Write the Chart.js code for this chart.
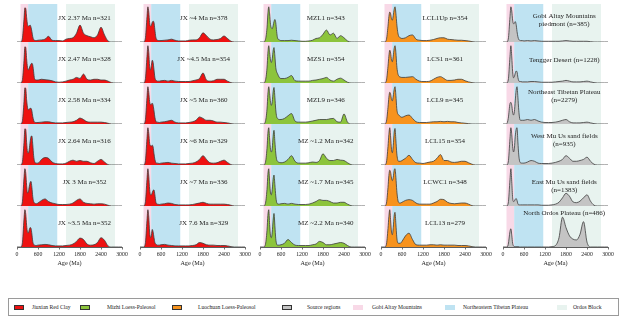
<!DOCTYPE html>
<html>
<head>
<meta charset="utf-8">
<script src="https://cdn.jsdelivr.net/npm/chart.js@4.4.0/dist/chart.umd.min.js"></script>
<style>
html, body { margin: 0; padding: 0; background: #fff; }
body { width: 623px; height: 323px; position: relative; overflow: hidden; font-family: 'Liberation Serif', serif; }
canvas.col { position: absolute; top: 0; }
#legend { position: absolute; left: 8px; top: 298px; width: 611px; height: 18px; border: 1px solid #9a9a9a; box-sizing: border-box; }
.sw { position: absolute; top: 305px; width: 10px; height: 5px; border: 0.8px solid #333; box-sizing: border-box; }
.lt { position: absolute; top: 302px; font-size: 5.6px; line-height: 10px; color: #222; white-space: nowrap; }
</style>
</head>
<body>
<div id="legend"></div>
<div id="charts"></div>
<script>
// age grid (Ma) shared by every density curve
const ages = [0, 100, 150, 200,
  225, 250, 275, 300, 325, 350, 375, 400, 425, 450, 475, 500,
  550, 600,
  700, 800, 900, 1000, 1100, 1200,
  1300, 1400, 1500, 1600, 1700, 1800,
  1900, 2000, 2100, 2200, 2300, 2400,
  2500, 2600, 2700, 2800, 2900, 3000];

// Jiuxian Red Clay
const jx237 = [0,0,0.08,0.65, 0.97,0.95,0.7,0.5,0.45,0.46,0.48,0.42,0.3,0.15,0.07,0.05, 0.04,0.05, 0.06,0.08,0.16,0.05,0.04,0.04, 0.03,0.08,0.1,0.12,0.25,0.48, 0.25,0.18,0.15,0.12,0.2,0.42, 0.2,0.03,0,0,0,0];
const jx247 = [0,0,0.06,0.6, 0.97,0.95,0.65,0.42,0.35,0.4,0.46,0.51,0.53,0.48,0.3,0.12, 0.08,0.08, 0.1,0.09,0.08,0.06,0.03,0.02, 0.03,0.05,0.08,0.1,0.15,0.12, 0.24,0.1,0.08,0.1,0.1,0.08, 0.08,0.05,0.01,0,0,0];
const jx258 = [0,0,0.06,0.6, 0.97,0.95,0.65,0.45,0.38,0.4,0.42,0.42,0.35,0.2,0.1,0.05, 0.04,0.04, 0.05,0.06,0.06,0.04,0.03,0.03, 0.03,0.04,0.05,0.06,0.1,0.16, 0.12,0.06,0.05,0.05,0.05,0.05, 0.04,0.02,0,0,0,0];
const jx264 = [0,0,0.06,0.6, 0.97,0.95,0.6,0.35,0.32,0.42,0.62,0.76,0.78,0.55,0.25,0.1, 0.05,0.05, 0.15,0.2,0.18,0.08,0.04,0.03, 0.03,0.05,0.1,0.13,0.1,0.12, 0.1,0.1,0.06,0.04,0.1,0.15, 0.08,0.01,0,0,0,0];
const jx3 = [0,0,0.08,0.75, 1,0.88,0.55,0.35,0.38,0.52,0.63,0.66,0.5,0.25,0.12,0.08, 0.06,0.08, 0.15,0.19,0.12,0.08,0.06,0.04, 0.04,0.04,0.05,0.08,0.15,0.19, 0.1,0.07,0.06,0.05,0.06,0.06, 0.05,0.02,0,0,0,0];
const jx35 = [0,0,0.08,0.75, 1,0.88,0.58,0.4,0.38,0.46,0.52,0.5,0.35,0.15,0.07,0.05, 0.04,0.05, 0.06,0.07,0.06,0.04,0.03,0.03, 0.03,0.04,0.05,0.08,0.15,0.24, 0.2,0.08,0.05,0.06,0.12,0.25, 0.18,0.03,0,0,0,0];
const jx4 = [0,0,0.08,0.72, 1,0.85,0.55,0.45,0.47,0.56,0.59,0.55,0.35,0.15,0.07,0.05, 0.04,0.04, 0.05,0.06,0.08,0.05,0.03,0.03, 0.03,0.05,0.06,0.06,0.12,0.26, 0.18,0.08,0.06,0.07,0.1,0.17, 0.1,0.02,0,0,0,0];
const jx45 = [0,0,0.08,0.72, 1,0.82,0.45,0.35,0.47,0.61,0.55,0.35,0.15,0.08,0.06,0.05, 0.05,0.06, 0.07,0.05,0.07,0.05,0.04,0.04, 0.04,0.04,0.06,0.08,0.12,0.27, 0.08,0.05,0.06,0.1,0.1,0.1, 0.05,0.01,0,0,0,0];
const jx5 = [0,0,0.08,0.72, 1,0.85,0.6,0.52,0.53,0.56,0.5,0.35,0.18,0.08,0.05,0.05, 0.04,0.05, 0.06,0.08,0.1,0.05,0.03,0.03, 0.03,0.04,0.06,0.1,0.19,0.15, 0.1,0.1,0.08,0.05,0.05,0.04, 0.03,0.01,0,0,0,0];
const jx6 = [0,0,0.08,0.72, 1,0.85,0.58,0.52,0.51,0.53,0.48,0.3,0.15,0.07,0.05,0.05, 0.04,0.05, 0.06,0.07,0.05,0.04,0.03,0.03, 0.03,0.04,0.05,0.08,0.15,0.25, 0.15,0.06,0.05,0.06,0.1,0.13, 0.07,0.01,0,0,0,0];
const jx7 = [0,0,0.08,0.72, 1,0.8,0.45,0.3,0.3,0.36,0.42,0.43,0.3,0.12,0.06,0.05, 0.04,0.05, 0.06,0.08,0.07,0.04,0.03,0.03, 0.03,0.03,0.04,0.06,0.08,0.1, 0.07,0.05,0.05,0.05,0.05,0.05, 0.04,0.02,0,0,0,0];
const jx76 = [0,0,0.08,0.72, 1,0.8,0.4,0.25,0.32,0.47,0.4,0.25,0.12,0.08,0.06,0.05, 0.05,0.06, 0.07,0.05,0.04,0.03,0.03,0.03, 0.03,0.03,0.04,0.06,0.12,0.1, 0.06,0.05,0.05,0.04,0.04,0.04, 0.03,0.01,0,0,0,0];

// Mizhi Loess-Paleosol
const mzl1 = [0,0,0.05,0.4, 0.8,1,0.8,0.5,0.4,0.38,0.46,0.58,0.64,0.55,0.3,0.12, 0.06,0.04, 0.04,0.04,0.05,0.04,0.03,0.02, 0.02,0.03,0.05,0.1,0.12,0.22, 0.34,0.2,0.25,0.1,0.18,0.12, 0.03,0,0,0,0,0];
const mzs1 = [0,0,0.05,0.4, 0.8,1,0.82,0.62,0.55,0.65,0.86,0.95,0.72,0.42,0.3,0.25, 0.15,0.12, 0.12,0.15,0.2,0.06,0.05,0.05, 0.05,0.05,0.07,0.08,0.1,0.12, 0.15,0.08,0.05,0.1,0.13,0.08, 0.02,0,0,0,0,0];
const mzl9 = [0,0,0.05,0.4, 0.8,1,0.82,0.58,0.5,0.6,0.86,0.98,0.72,0.38,0.2,0.15, 0.12,0.12, 0.15,0.22,0.28,0.08,0.05,0.05, 0.05,0.06,0.08,0.1,0.12,0.12, 0.12,0.14,0.15,0.06,0.05,0.27, 0.05,0,0,0,0,0];
const mz12 = [0,0,0.05,0.45, 0.85,1,0.7,0.42,0.35,0.45,0.77,0.93,0.62,0.32,0.15,0.1, 0.07,0.06, 0.08,0.15,0.25,0.1,0.05,0.05, 0.05,0.06,0.08,0.07,0.12,0.3, 0.18,0.12,0.12,0.15,0.13,0.12, 0.06,0.01,0,0,0,0];
const mz17 = [0,0,0.05,0.45, 0.85,1,0.65,0.35,0.3,0.45,0.72,0.83,0.57,0.27,0.1,0.06, 0.05,0.06, 0.07,0.05,0.07,0.05,0.04,0.04, 0.04,0.05,0.08,0.12,0.17,0.15, 0.15,0.12,0.08,0.08,0.1,0.1, 0.05,0.01,0,0,0,0];
const mz22 = [0,0,0.05,0.45, 0.85,1,0.6,0.3,0.25,0.4,0.72,0.9,0.57,0.22,0.08,0.05, 0.05,0.06, 0.1,0.2,0.12,0.05,0.04,0.04, 0.04,0.04,0.06,0.08,0.15,0.12, 0.06,0.06,0.08,0.1,0.12,0.1, 0.04,0,0,0,0,0];

// Luochuan Loess-Paleosol
const lcl1up = [0,0,0.05,0.45, 0.72,0.85,0.8,0.66,0.62,0.75,0.92,1,0.82,0.52,0.3,0.18, 0.12,0.1, 0.12,0.18,0.2,0.08,0.05,0.04, 0.04,0.05,0.07,0.1,0.12,0.12, 0.08,0.07,0.06,0.05,0.05,0.04, 0.03,0.01,0,0,0,0];
const lcs1 = [0,0,0.05,0.45, 0.72,0.88,0.8,0.62,0.57,0.72,0.92,1,0.82,0.47,0.28,0.2, 0.16,0.15, 0.15,0.16,0.17,0.1,0.05,0.04, 0.04,0.05,0.1,0.15,0.17,0.12, 0.07,0.07,0.08,0.1,0.1,0.06, 0.03,0.01,0,0,0,0];
const lcl9 = [0,0,0.05,0.45, 0.72,0.85,0.8,0.66,0.62,0.75,0.92,1,0.77,0.42,0.28,0.25, 0.2,0.18, 0.22,0.24,0.15,0.06,0.04,0.04, 0.04,0.05,0.06,0.06,0.07,0.06, 0.07,0.06,0.06,0.04,0.03,0.02, 0.01,0,0,0,0,0];
const lcl15 = [0,0,0.05,0.5, 0.82,1,0.75,0.42,0.33,0.52,0.86,0.98,0.67,0.32,0.15,0.1, 0.1,0.12, 0.18,0.26,0.15,0.06,0.05,0.04, 0.06,0.08,0.1,0.18,0.28,0.12, 0.12,0.08,0.07,0.08,0.1,0.1, 0.06,0.02,0,0,0,0];
const lcwc1 = [0,0,0.05,0.5, 0.82,0.96,0.9,0.75,0.68,0.77,0.95,1,0.77,0.42,0.2,0.1, 0.08,0.1, 0.15,0.17,0.15,0.08,0.05,0.05, 0.05,0.05,0.08,0.12,0.18,0.17, 0.1,0.07,0.06,0.07,0.08,0.08, 0.05,0.01,0,0,0,0];
const lcl13 = [0,0,0.05,0.5, 0.82,1,0.7,0.4,0.33,0.52,0.83,0.93,0.62,0.27,0.12,0.1, 0.1,0.15, 0.3,0.37,0.2,0.06,0.05,0.05, 0.05,0.06,0.06,0.05,0.06,0.05, 0.05,0.05,0.05,0.04,0.04,0.04, 0.03,0.01,0,0,0,0];

// Source regions
const gobi = [0,0,0.08,0.72, 1,0.88,0.62,0.52,0.53,0.58,0.5,0.3,0.15,0.07,0.05,0.04, 0.04,0.03, 0.04,0.03,0.04,0.03,0.02,0.02, 0.02,0.02,0.02,0.02,0.03,0.04, 0.03,0.02,0.02,0.02,0.02,0.02, 0.01,0,0,0,0,0];
const tengger = [0,0,0.08,0.72, 1,0.7,0.3,0.14,0.17,0.26,0.32,0.3,0.15,0.06,0.04,0.04, 0.03,0.03, 0.03,0.04,0.04,0.03,0.02,0.02, 0.02,0.02,0.03,0.04,0.05,0.07, 0.05,0.03,0.03,0.03,0.04,0.05, 0.03,0.01,0,0,0,0];
const neTibet = [0,0,0.15,0.55, 0.58,0.5,0.32,0.24,0.33,0.62,0.9,1,0.72,0.37,0.15,0.1, 0.1,0.1, 0.12,0.1,0.12,0.08,0.05,0.04, 0.04,0.04,0.05,0.07,0.1,0.12, 0.06,0.03,0.03,0.03,0.04,0.05, 0.03,0.01,0,0,0,0];
const westMuUs = [0,0,0.08,0.72, 1,0.82,0.5,0.35,0.45,0.77,0.95,1,0.62,0.27,0.1,0.06, 0.05,0.05, 0.08,0.12,0.1,0.05,0.04,0.04, 0.04,0.05,0.07,0.1,0.15,0.25, 0.18,0.1,0.1,0.12,0.15,0.21, 0.1,0.02,0,0,0,0];
const eastMuUs = [0,0,0.08,0.72, 1,0.65,0.22,0.12,0.13,0.18,0.2,0.15,0.06,0.03,0.03,0.03, 0.03,0.03, 0.03,0.03,0.03,0.03,0.02,0.02, 0.02,0.03,0.05,0.1,0.22,0.34, 0.26,0.11,0.09,0.13,0.22,0.3, 0.13,0.02,0,0,0,0];
const northOrdos = [0,0,0.07,0.42, 0.49,0.32,0.1,0.03,0.01,0.01,0.01,0.01,0.01,0.01,0,0, 0,0, 0,0,0,0,0,0, 0,0.01,0.04,0.25,0.8,0.52, 0.3,0.21,0.19,0.34,0.68,0.13, 0,0,0,0,0,0];

// panel captions
const jxLabelsA = ['JX 2.37 Ma n=321', 'JX 2.47 Ma n=328', 'JX 2.58 Ma n=334', 'JX 2.64 Ma n=316', 'JX 3 Ma n=352', 'JX ~3.5 Ma n=352'];
const jxLabelsB = ['JX ~4 Ma n=378', 'JX ~4.5 Ma n=354', 'JX ~5 Ma n=360', 'JX ~6 Ma n=329', 'JX ~7 Ma n=336', 'JX 7.6 Ma n=329'];
const mzLabels = ['MZL1 n=343', 'MZS1 n=354', 'MZL9 n=346', 'MZ ~1.2 Ma n=342', 'MZ ~1.7 Ma n=345', 'MZ ~2.2 Ma n=340'];
const lcLabels = ['LCL1Up n=354', 'LCS1 n=361', 'LCL9 n=345', 'LCL15 n=354', 'LCWC1 n=348', 'LCL13 n=279'];
const srcLabels = [['Gobi Altay Mountains', 'piedmont (n=385)'], ['Tengger Desert (n=1228)'],
  ['Northeast Tibetan Plateau', '(n=2279)'], ['West Mu Us sand fields', '(n=935)'],
  ['East Mu Us sand fields', '(n=1383)'], ['North Ordos Plateau (n=486)']];

// shaded source-age windows
const bandNames = ['Gobi Altay Mountains', 'Northeastern Tibetan Plateau', 'Ordos Block'];
const bandStart = [100, 320, 1400];
const bandEnd = [320, 1150, 2800];
const bandColors = ['#f8d9e7', '#bfe3f2', '#e8f3ef'];

const groupNames = ['Jiuxian Red Clay', 'Mizhi Loess-Paleosol', 'Luochuan Loess-Paleosol', 'Source regions'];
const groupColors = ['#ee1111', '#8cc43c', '#f7931e', '#c4c4c4'];

const xTicks = [0, 600, 1200, 1800, 2400, 3000];

const columns = [
  { left: 17, group: 0, series: [jx237, jx247, jx258, jx264, jx3, jx35], labels: jxLabelsA, labelAge: 1930, dy: [24, 24, 24, 24, 24, 24] },
  { left: 140, group: 0, series: [jx4, jx45, jx5, jx6, jx7, jx76], labels: jxLabelsB, labelAge: 1820, dy: [24, 24, 24, 24, 24, 24] },
  { left: 260, group: 1, series: [mzl1, mzs1, mzl9, mz12, mz17, mz22], labels: mzLabels, labelAge: 1880, dy: [24, 24, 24, 24, 24, 24] },
  { left: 381, group: 2, series: [lcl1up, lcs1, lcl9, lcl15, lcwc1, lcl13], labels: lcLabels, labelAge: 1830, dy: [24, 24, 24, 24, 24, 24] },
  { left: 503, group: 3, series: [gobi, tengger, neTibet, westMuUs, eastMuUs, northOrdos], labels: srcLabels, labelAge: 1750, dy: [26, 23, 32, 29, 24, 34] }
];

const rowWeights = [38, 41, 41, 41, 41, 41];

const bandPlugin = {
  id: 'bands',
  beforeDatasetsDraw(chart) {
    const { ctx, chartArea, scales } = chart;
    ctx.save();
    bandStart.forEach((s, i) => {
      const x0 = scales.x.getPixelForValue(s);
      const x1 = scales.x.getPixelForValue(bandEnd[i]);
      ctx.fillStyle = bandColors[i];
      ctx.fillRect(x0, chartArea.top, x1 - x0, chartArea.bottom - chartArea.top);
    });
    ctx.restore();
  }
};

const captionPlugin = {
  id: 'captions',
  afterDatasetsDraw(chart, args, opts) {
    const ctx = chart.ctx;
    const x = chart.scales.x.getPixelForValue(opts.age);
    ctx.save();
    ctx.font = '7px "Liberation Serif"';
    ctx.fillStyle = '#222';
    ctx.textAlign = 'center';
    ctx.textBaseline = 'middle';
    opts.labels.forEach((t, r) => {
      const base = chart.scales['y' + r].getPixelForValue(0);
      const lines = Array.isArray(t) ? t : [t];
      lines.forEach((line, k) => ctx.fillText(line, x, base - opts.dy[r] + k * 8.5));
    });
    ctx.restore();
  }
};

function buildColumn(col) {
  const canvas = document.createElement('canvas');
  canvas.className = 'col';
  canvas.width = 121;
  canvas.height = 268;
  canvas.style.left = (col.left - 8) + 'px';
  canvas.style.width = '121px';
  canvas.style.height = '268px';
  document.getElementById('charts').appendChild(canvas);

  const scales = {
    x: {
      type: 'linear', position: 'bottom', min: 0, max: 3000,
      afterBuildTicks: s => { s.ticks = xTicks.map(v => ({ value: v })); },
      ticks: { font: { size: 5.8 }, color: '#222', padding: 1, maxRotation: 0, autoSkip: false, callback: v => String(v) },
      grid: { drawOnChartArea: false, drawTicks: true, tickLength: 2.5, color: '#333', lineWidth: 0.7 },
      border: { color: '#333', width: 0.8 },
      title: { display: true, text: 'Age (Ma)', font: { size: 6.2 }, color: '#222', padding: { top: 0, bottom: 1 } },
      afterFit: s => { s.height = 21; }
    }
  };
  rowWeights.forEach((w, r) => {
    scales['y' + r] = { type: 'linear', display: false, position: 'right', stack: 'rows', stackWeight: w, min: 0, max: r === 0 ? 1.08 : 1.1 };
  });

  const datasets = col.series.map((vals, r) => ({
    data: ages.map((a, i) => ({ x: a, y: vals[i] })),
    yAxisID: 'y' + r,
    fill: 'origin',
    backgroundColor: groupColors[col.group],
    borderColor: '#3c3c3c',
    borderWidth: 0.8,
    pointRadius: 0,
    cubicInterpolationMode: 'monotone'
  }));

  new Chart(canvas, {
    type: 'line',
    data: { datasets },
    options: {
      responsive: false,
      animation: false,
      layout: { padding: { left: 8, right: 8, top: 4, bottom: 0 } },
      plugins: {
        legend: { display: false },
        tooltip: { enabled: false },
        captions: { labels: col.labels, age: col.labelAge, dy: col.dy }
      },
      scales
    },
    plugins: [bandPlugin, captionPlugin]
  });
}

Chart.defaults.font.family = "'Liberation Serif', serif";
columns.forEach(buildColumn);

// legend (html)
const legendItems = [
  { name: groupNames[0], color: groupColors[0], sx: 14, tx: 32 },
  { name: groupNames[1], color: groupColors[1], sx: 80, tx: 107 },
  { name: groupNames[2], color: groupColors[2], sx: 172, tx: 198 },
  { name: groupNames[3], color: groupColors[3], sx: 282, tx: 307 },
  { name: bandNames[0], color: bandColors[0], sx: 353, tx: 372, flat: true },
  { name: bandNames[1], color: bandColors[1], sx: 445, tx: 463, flat: true },
  { name: bandNames[2], color: bandColors[2], sx: 557, tx: 573, flat: true }
];
legendItems.forEach(it => {
  const sw = document.createElement('div');
  sw.className = 'sw';
  sw.style.left = it.sx + 'px';
  sw.style.background = it.color;
  if (it.flat) sw.style.border = 'none';
  document.body.appendChild(sw);
  const t = document.createElement('div');
  t.className = 'lt';
  t.style.left = it.tx + 'px';
  t.textContent = it.name;
  document.body.appendChild(t);
});
</script>
</body>
</html>
